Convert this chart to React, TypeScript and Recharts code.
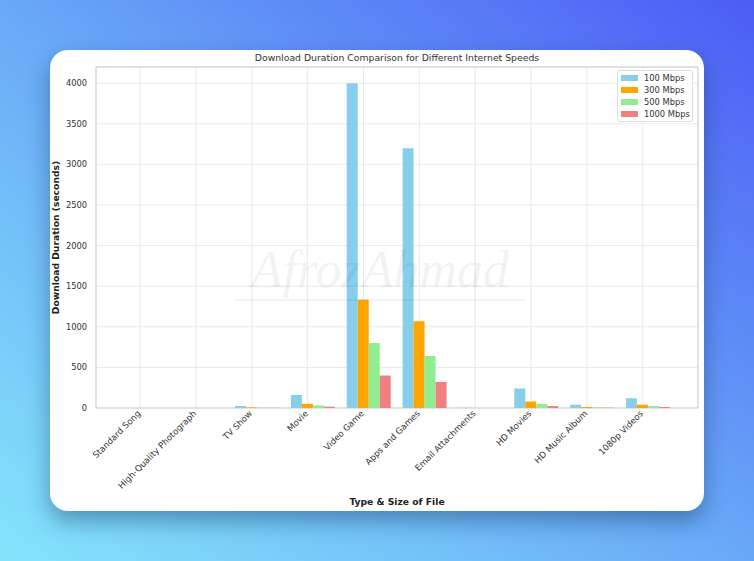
import { BarChart, Bar, XAxis, YAxis, CartesianGrid, ReferenceArea } from 'recharts';

const categories = [
  'Standard Song',
  'High-Quality Photograph',
  'TV Show',
  'Movie',
  'Video Game',
  'Apps and Games',
  'Email Attachments',
  'HD Movies',
  'HD Music Album',
  '1080p Videos',
];

// seconds to download at each speed
const mbps100 = [0.4, 0.24, 24, 160, 4000, 3200, 2, 240, 40, 120];
const mbps300 = [0.13, 0.08, 8, 53, 1333, 1067, 0.67, 80, 13, 40];
const mbps500 = [0.08, 0.05, 4.8, 32, 800, 640, 0.4, 48, 8, 24];
const mbps1000 = [0.04, 0.02, 2.4, 16, 400, 320, 0.2, 24, 4, 12];

const yTicks = [0, 500, 1000, 1500, 2000, 2500, 3000, 3500, 4000];

const SERIES = [
  { key: 's100', name: '100 Mbps', color: '#87CEEB', values: mbps100 },
  { key: 's300', name: '300 Mbps', color: '#FFA500', values: mbps300 },
  { key: 's500', name: '500 Mbps', color: '#90EE90', values: mbps500 },
  { key: 's1000', name: '1000 Mbps', color: '#F08080', values: mbps1000 },
];

// matplotlib style: bars start at the tick and step right by width, so group centre sits a bit right of tick
const data = categories.map((name, i) => {
  const row: Record<string, number | string> = { pos: i + 0.1, name };
  SERIES.forEach((s) => (row[s.key] = s.values[i]));
  return row;
});

const FONT = '"DejaVu Sans", sans-serif';

function XTick({ x, y, payload }: any) {
  const tx = x + 1;
  const ty = y + 6;
  return (
    <text x={tx} y={ty} transform={`rotate(-45 ${tx} ${ty})`} textAnchor="end" fontSize={8.6} fill="#333" fontFamily={FONT}>
      {categories[payload.value]}
    </text>
  );
}

export default function App() {
  return (
    <div
      style={{
        position: 'absolute',
        left: 0,
        top: 0,
        width: 754,
        height: 561,
        overflow: 'hidden',
        background: 'linear-gradient(to top right, #84e4fb 0%, #69a8f7 50%, #4c5cf6 100%)',
        fontFamily: FONT,
      }}
    >
      <div
        style={{
          position: 'absolute',
          left: 50,
          top: 50,
          width: 654,
          height: 461,
          background: '#fff',
          borderRadius: 18,
          boxShadow: '0 10px 22px rgba(20, 60, 100, 0.45)',
        }}
      >
        <div style={{ position: 'absolute', top: 2, left: 0, width: 694, textAlign: 'center', fontSize: 9.3, color: '#333' }}>
          Download Duration Comparison for Different Internet Speeds
        </div>
        <BarChart
          width={654}
          height={461}
          data={data}
          margin={{ top: 17, right: 6, left: 0, bottom: 0 }}
          barGap={0}
          barCategoryGap="10%"
        >
          <CartesianGrid stroke="#e3e3e3" strokeWidth={0.8} />
          <XAxis
            dataKey="pos"
            type="number"
            domain={[-0.79, 9.99]}
            ticks={[0, 1, 2, 3, 4, 5, 6, 7, 8, 9]}
            interval={0}
            tick={<XTick />}
            tickLine={false}
            axisLine={false}
            tickSize={0}
            tickMargin={0}
            height={103}
            label={{ value: 'Type & Size of File', position: 'insideBottom', offset: 6, fontSize: 9.2, fontWeight: 'bold', fill: '#222', fontFamily: FONT }}
          />
          <YAxis
            domain={[0, 4200]}
            ticks={yTicks}
            tickLine={false}
            axisLine={false}
            tickSize={0}
            tickMargin={9}
            width={46}
            tick={{ fontSize: 8.3, fill: '#333', fontFamily: FONT }}
            label={{ value: 'Download Duration (seconds)', angle: -90, position: 'insideLeft', offset: 6, style: { textAnchor: 'middle' }, fontSize: 9.2, fontWeight: 'bold', fill: '#222', fontFamily: FONT }}
          />
          <ReferenceArea x1={-0.79} x2={9.99} y1={0} y2={4200} fill="none" stroke="#cfcfcf" strokeWidth={1} ifOverflow="visible" />
          {SERIES.map((s) => (
            <Bar key={s.key} dataKey={s.key} name={s.name} fill={s.color} isAnimationActive={false} />
          ))}
        </BarChart>
        <div
          style={{
            position: 'absolute',
            left: 567,
            top: 20,
            width: 76,
            height: 52,
            boxSizing: 'border-box',
            background: 'rgba(255,255,255,0.85)',
            border: '1px solid #dcdcdc',
            borderRadius: 3,
            padding: '1px 0 0 3px',
          }}
        >
          {SERIES.map((s) => (
            <div key={s.key} style={{ display: 'flex', alignItems: 'center', height: 11.9, fontSize: 8.3, color: '#333' }}>
              <span style={{ display: 'inline-block', width: 17, height: 6, background: s.color, marginRight: 6 }} />
              {s.name}
            </div>
          ))}
        </div>
        <div
          style={{
            position: 'absolute',
            left: 185,
            top: 190,
            width: 290,
            textAlign: 'center',
            fontSize: 52,
            fontStyle: 'italic',
            fontFamily: 'serif',
            color: 'rgba(0,0,0,0.05)',
            borderBottom: '2px solid rgba(0,0,0,0.05)',
            pointerEvents: 'none',
          }}
        >
          AfrozAhmad
        </div>
      </div>
    </div>
  );
}
